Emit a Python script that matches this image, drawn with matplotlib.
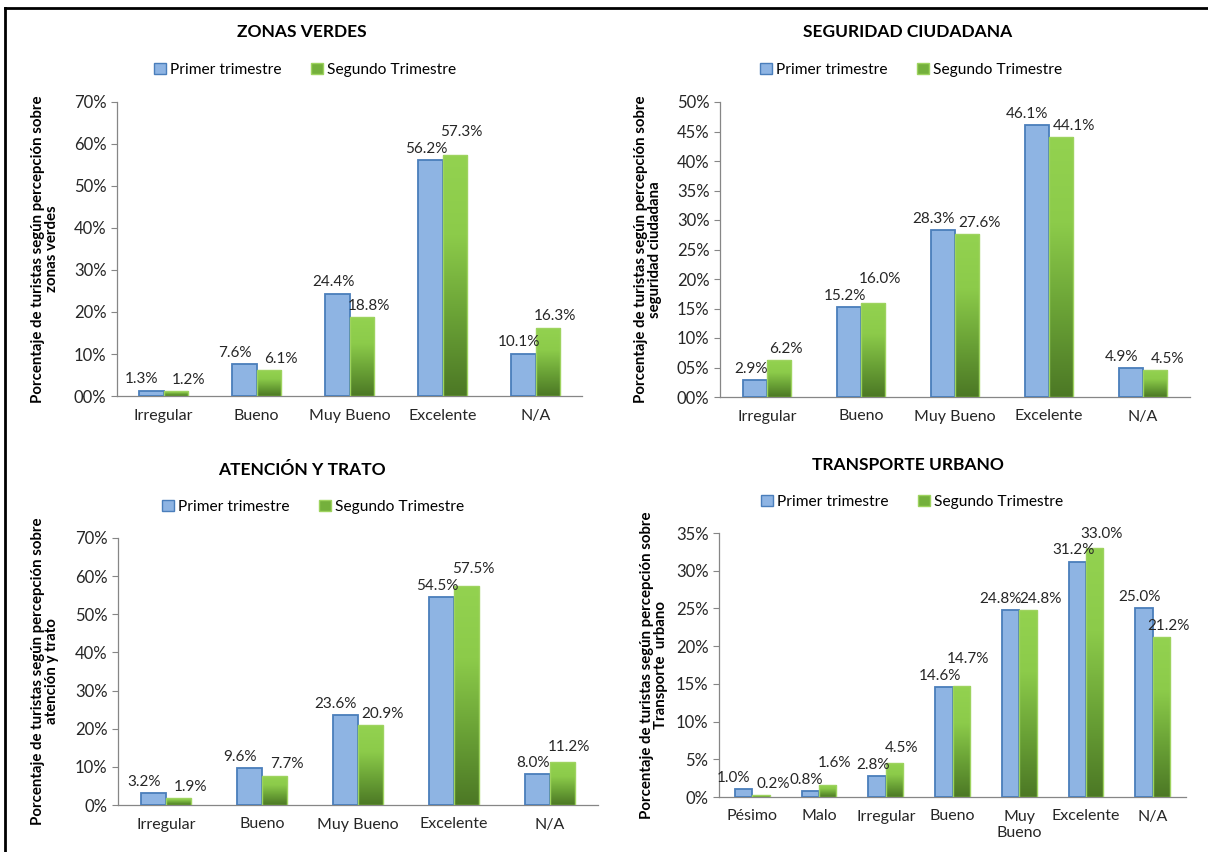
import numpy as np
import matplotlib
matplotlib.use("Agg")
import matplotlib.pyplot as plt
from matplotlib.colors import LinearSegmentedColormap
from matplotlib.lines import Line2D
from matplotlib.patches import Patch
from matplotlib.ticker import FuncFormatter, MultipleLocator

plt.rcParams["font.family"] = ["Lato", "DejaVu Sans"]

series_names = ["Primer trimestre", "Segundo Trimestre"]

cats5 = ["Irregular", "Bueno", "Muy Bueno", "Excelente", "N/A"]
cats7 = ["Pésimo", "Malo", "Irregular", "Bueno", "Muy\nBueno", "Excelente", "N/A"]

zonas_q1 = [1.3, 7.6, 24.4, 56.2, 10.1]
zonas_q2 = [1.2, 6.1, 18.8, 57.3, 16.3]

seguridad_q1 = [2.9, 15.2, 28.3, 46.1, 4.9]
seguridad_q2 = [6.2, 16.0, 27.6, 44.1, 4.5]

atencion_q1 = [3.2, 9.6, 23.6, 54.5, 8.0]
atencion_q2 = [1.9, 7.7, 20.9, 57.5, 11.2]

transporte_q1 = [1.0, 0.8, 2.8, 14.6, 24.8, 31.2, 25.0]
transporte_q2 = [0.2, 1.6, 4.5, 14.7, 24.8, 33.0, 21.2]

BLUE_FACE = "#8EB4E3"
BLUE_EDGE = "#4A7EBB"
GREEN_EDGE = "#9ED35F"
green_cmap = LinearSegmentedColormap.from_list(
    "grad", ["#4C7825", "#6AA236", "#8CCB4A", "#93D250"])

W, H = 1208, 852
fig = plt.figure(figsize=(W / 100, H / 100), dpi=100)


def fx(px):
    return px / W


def fy(py):
    return 1 - py / H


def panel(rect, cats, q1, q2, ymax, step, fmt, title, title_xy, leg_xy, ylabel, ylab_x):
    ax = fig.add_axes(rect)
    x = np.arange(len(cats))
    w = 0.26
    b1 = ax.bar(x - w / 2, q1, w, color=BLUE_FACE, edgecolor=BLUE_EDGE, linewidth=1.3, zorder=3)
    b2 = ax.bar(x + w / 2, q2, w, color="none", edgecolor=GREEN_EDGE, linewidth=1.0, zorder=4)
    grad = np.linspace(0, 1, 256).reshape(-1, 1)
    for bar in b2:
        x0, h = bar.get_x(), bar.get_height()
        im = ax.imshow(grad, extent=[x0, x0 + bar.get_width(), 0, h], origin="lower",
                       aspect="auto", cmap=green_cmap, zorder=3)
        im.set_clip_path(bar)

    # value labels; when two labels would collide the second one is lifted
    # (if its bar is taller) or both are pushed apart sideways
    px_per_unit = rect[3] * H / ymax * 72 / 100
    for bar1, bar2, v1, v2 in zip(b1, b2, q1, q2):
        gap = (v2 - v1) * px_per_unit
        lift, dx1, dx2 = 0, -3, 5
        if v2 > v1 and gap < 12:
            lift = 12 - gap
        elif abs(gap) < 12:
            dx1, dx2 = -7, 9
        ax.annotate(f"{v1:.1f}%", (bar1.get_x() + bar1.get_width() / 2, v1),
                    xytext=(dx1, 3), textcoords="offset points", ha="center",
                    va="bottom", fontsize=11, color="#262626", zorder=5)
        ax.annotate(f"{v2:.1f}%", (bar2.get_x() + bar2.get_width() / 2, v2),
                    xytext=(dx2, 3 + lift), textcoords="offset points", ha="center",
                    va="bottom", fontsize=11, color="#262626", zorder=5)

    ax.set_xlim(-0.5, len(cats) - 0.5)
    ax.set_ylim(0, ymax)
    ax.yaxis.set_major_locator(MultipleLocator(step))
    ax.yaxis.set_major_formatter(FuncFormatter(lambda v, p: fmt.format(v)))
    ax.set_xticks(x)
    ax.set_xticklabels(cats)
    ax.tick_params(axis="x", length=0, pad=9, labelsize=11.5, colors="#262626")
    ax.tick_params(axis="y", length=4, width=0.8, color="#868686", labelsize=12,
                   labelcolor="#262626")
    for s in ("top", "right"):
        ax.spines[s].set_visible(False)
    for s in ("left", "bottom"):
        ax.spines[s].set_color("#868686")
        ax.spines[s].set_linewidth(0.9)
    fig.text(fx(title_xy[0]), fy(title_xy[1]), title, ha="center", va="center",
             fontsize=12.5, fontweight="bold", color="black")
    fig.text(fx(ylab_x), (rect[1] + rect[1] + rect[3]) / 2, ylabel, rotation=90,
             ha="center", va="center", fontsize=10.8, fontweight="bold",
             linespacing=1.0, multialignment="center")
    handles = [Patch(facecolor=BLUE_FACE, edgecolor=BLUE_EDGE, linewidth=1.0),
               Patch(facecolor="#74B03C", edgecolor=GREEN_EDGE, linewidth=1.0)]
    ax.legend(handles, series_names, loc="center", ncol=2, frameon=False,
              bbox_to_anchor=(fx(leg_xy[0]), fy(leg_xy[1])),
              bbox_transform=fig.transFigure, fontsize=11.2,
              handlelength=0.75, handleheight=0.75, handletextpad=0.25,
              columnspacing=1.9)
    return ax


panel([fx(117), fy(396), fx(582) - fx(117), fy(102) - fy(396)],
      cats5, zonas_q1, zonas_q2, 70, 10, "{:02.0f}%", "ZONAS VERDES", (302, 32), (305, 70),
      "Porcentaje de turistas según percepción sobre\nzonas verdes", 45)

panel([fx(720), fy(397), fx(1190) - fx(720), fy(102) - fy(397)],
      cats5, seguridad_q1, seguridad_q2, 50, 5, "{:02.0f}%", "SEGURIDAD CIUDADANA", (908, 32), (911, 70),
      "Porcentaje de turistas según percepción sobre\nseguridad ciudadana", 648)

panel([fx(118), fy(805), fx(598) - fx(118), fy(538) - fy(805)],
      cats5, atencion_q1, atencion_q2, 70, 10, "{:.0f}%", "ATENCIÓN Y TRATO", (302, 470), (313, 507),
      "Porcentaje de turistas según percepción sobre\natención y trato", 45)

panel([fx(719), fy(797), fx(1186) - fx(719), fy(533) - fy(797)],
      cats7, transporte_q1, transporte_q2, 35, 5, "{:.0f}%", "TRANSPORTE URBANO", (908, 465), (912, 502),
      "Porcentaje de turistas según percepción sobre\nTransporte  urbano", 654)

# outer frame (top and left edges)
fig.add_artist(Line2D([fx(5), 1], [fy(8), fy(8)], color="black", linewidth=2))
fig.add_artist(Line2D([fx(5), fx(5)], [fy(8), 0], color="black", linewidth=2))

fig.savefig("out.png", dpi=100)
